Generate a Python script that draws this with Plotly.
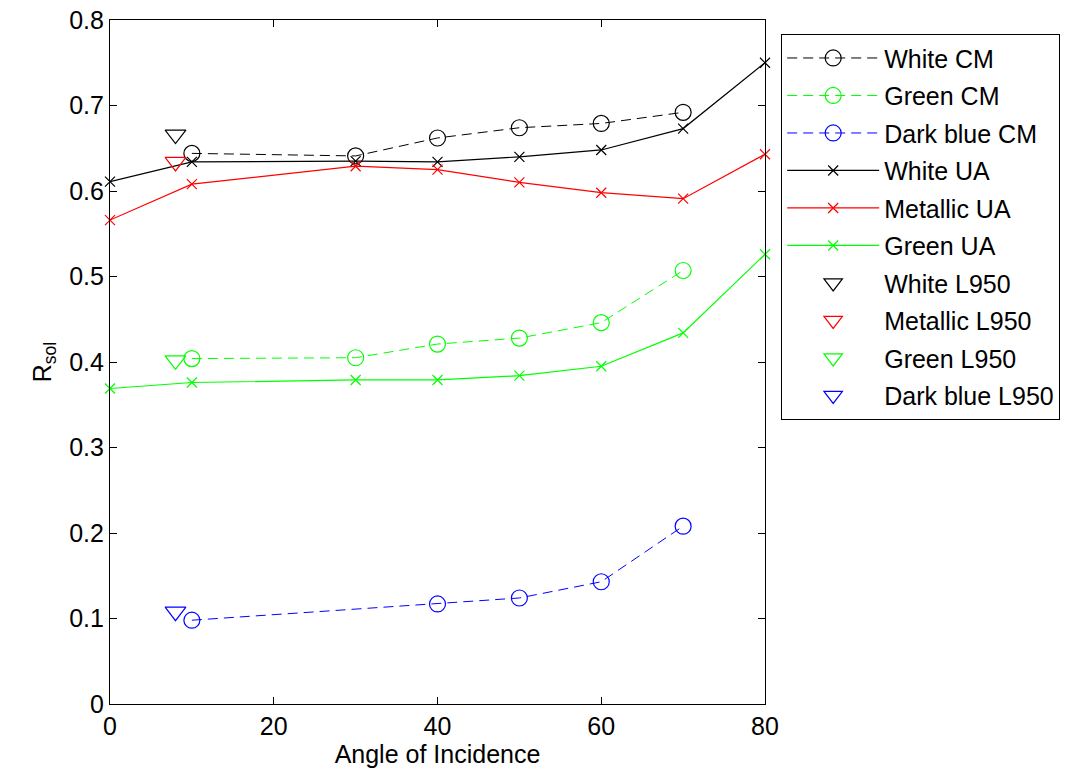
import plotly.graph_objects as go

# ---- data ----
angles_cm = [10, 30, 40, 50, 60, 70]
angles_cm_blue = [10, 40, 50, 60, 70]
angles_ua = [0, 10, 30, 40, 50, 60, 70, 80]
angle_l950 = [8]

white_cm = [0.644, 0.641, 0.662, 0.674, 0.679, 0.692]
green_cm = [0.404, 0.405, 0.421, 0.428, 0.446, 0.507]
darkblue_cm = [0.098, 0.117, 0.124, 0.143, 0.208]

white_ua = [0.611, 0.634, 0.635, 0.634, 0.640, 0.648, 0.673, 0.750]
metallic_ua = [0.566, 0.608, 0.629, 0.625, 0.610, 0.598, 0.591, 0.643]
green_ua = [0.369, 0.376, 0.379, 0.379, 0.384, 0.395, 0.434, 0.526]

white_l950 = [0.666]
metallic_l950 = [0.634]
green_l950 = [0.402]
darkblue_l950 = [0.108]

BLACK, GREEN, BLUE, RED = "#000000", "#00ff00", "#0000ff", "#ff0000"
FONT = "Liberation Sans, Arial, sans-serif"
FS = 25

fig = go.Figure()

def cm(x, y, name, color):
    fig.add_trace(go.Scatter(
        x=x, y=y, name=name, legendgroup=name, mode="lines+markers",
        line=dict(color=color, width=1, dash="10px,6px"),
        marker=dict(symbol="circle-open", size=16, color=color, line=dict(width=1.2, color=color)),
        cliponaxis=False))

def ua(x, y, name, color):
    fig.add_trace(go.Scatter(
        x=x, y=y, name=name, legendgroup=name, mode="lines+markers",
        line=dict(color=color, width=1.2),
        marker=dict(symbol="x-thin-open", size=10, color=color, line=dict(width=1.2, color=color)),
        cliponaxis=False))

def l950(x, y, name, color):
    fig.add_trace(go.Scatter(
        x=x, y=y, name=name, legendgroup=name, mode="markers",
        marker=dict(symbol="triangle-down-open", size=18, color=color, line=dict(width=1.2, color=color)),
        cliponaxis=False))

cm(angles_cm, white_cm, "White CM", BLACK)
cm(angles_cm, green_cm, "Green CM", GREEN)
cm(angles_cm_blue, darkblue_cm, "Dark blue CM", BLUE)
ua(angles_ua, white_ua, "White UA", BLACK)
ua(angles_ua, metallic_ua, "Metallic UA", RED)
ua(angles_ua, green_ua, "Green UA", GREEN)
l950(angle_l950, white_l950, "White L950", BLACK)
l950(angle_l950, metallic_l950, "Metallic L950", RED)
l950(angle_l950, green_l950, "Green L950", GREEN)
l950(angle_l950, darkblue_l950, "Dark blue L950", BLUE)

axis_common = dict(
    showline=True, linecolor="black", linewidth=1.2, mirror="ticks",
    ticks="inside", ticklen=7, tickcolor="black", tickwidth=1,
    showgrid=False, zeroline=False,
    tickfont=dict(family=FONT, size=FS, color="black"),
)

fig.update_layout(
    width=1069, height=775,
    margin=dict(l=110, r=304, t=20, b=71, autoexpand=False),
    paper_bgcolor="white", plot_bgcolor="white",
    font=dict(family=FONT, size=FS, color="black"),
    xaxis=dict(range=[0, 80], tick0=0, dtick=20,
               title=dict(text="Angle of Incidence", font=dict(family=FONT, size=FS), standoff=4),
               **axis_common),
    yaxis=dict(range=[0, 0.8], tick0=0, dtick=0.1,
               title=dict(text="R<sub>sol</sub>", font=dict(family=FONT, size=FS), standoff=10),
               **axis_common),
    legend=dict(x=1.0244, y=0.9795, xanchor="left", yanchor="top",
                bordercolor="black", borderwidth=1.2, bgcolor="white",
                font=dict(family=FONT, size=FS, color="black"),
                itemwidth=92, tracegroupgap=2, traceorder="grouped"),
    showlegend=True,
)

fig.write_html("out.html")
